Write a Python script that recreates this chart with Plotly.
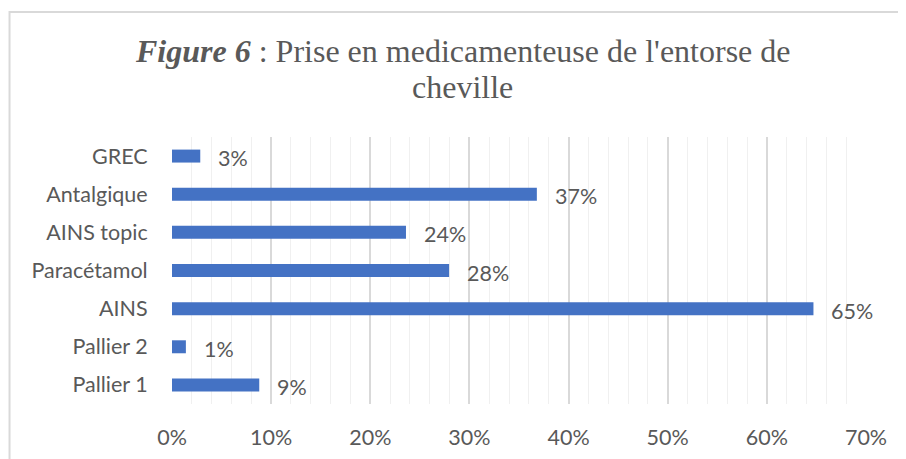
import plotly.graph_objects as go

# values (share of patients)
categories = ["Pallier 1", "Pallier 2", "AINS", "Paracétamol", "AINS topic", "Antalgique", "GREC"]
values = [0.088, 0.014, 0.647, 0.2795, 0.236, 0.368, 0.0285]
x_ticks = [0, 0.1, 0.2, 0.3, 0.4, 0.5, 0.6, 0.7]
x_ticklabels = ["0%", "10%", "20%", "30%", "40%", "50%", "60%", "70%"]
title_lines = ["<b><i>Figure 6</i></b> : Prise en medicamenteuse de l'entorse de", "cheville"]

blue = "#4472C4"
grey_txt = "#595959"
label_font = dict(family="Lato, Open Sans, sans-serif", size=21.5, color=grey_txt)
title_font = dict(family="Liberation Serif, Times New Roman, serif", size=32, color=grey_txt)

fig = go.Figure()
fig.add_trace(go.Bar(
    y=categories, x=values, orientation="h",
    marker=dict(color=blue, line=dict(width=0)),
    width=0.34,
    hoverinfo="skip",
))

# data labels, pushed a bit away from the bar end like in Excel
for cat, v in zip(categories, values):
    fig.add_annotation(x=v, y=cat, text=f"{round(v * 100)}%", showarrow=False,
                       xanchor="left", xshift=16, yshift=-2, font=label_font)

# two-line title, written as separate lines to keep the tight line spacing
for line, ypos in zip(title_lines, [1.322, 1.187]):
    fig.add_annotation(xref="paper", yref="paper", x=0.418, y=ypos, text=line,
                       showarrow=False, xanchor="center", yanchor="middle", font=title_font)

# the page adds an 8px body margin, so the margins are 8px smaller on left/top
fig.update_layout(
    width=906, height=459,
    margin=dict(l=164, r=48, t=129, b=63),
    paper_bgcolor="white", plot_bgcolor="white",
    showlegend=False,
    xaxis=dict(
        range=[0, 0.7], tickvals=x_ticks, ticktext=x_ticklabels,
        showgrid=True, gridcolor="#d9d9d9", gridwidth=1.5,
        minor=dict(dtick=0.02, showgrid=True, gridcolor="#f0f0f0", gridwidth=1),
        zeroline=False, showline=False, automargin=False,
        ticks="outside", ticklen=14, tickcolor="rgba(0,0,0,0)",
        tickfont=label_font, fixedrange=True,
    ),
    yaxis=dict(
        range=[-0.5, 6.5], showgrid=False, zeroline=False, showline=False,
        automargin=False,
        ticks="outside", ticklen=19, tickcolor="rgba(0,0,0,0)",
        tickfont=label_font, fixedrange=True,
    ),
    shapes=[
        # outer chart frame, cropped by the picture on the right and bottom
        dict(type="rect", xref="paper", yref="paper",
             x0=-0.2341, x1=1.3, y0=-0.6, y1=1.468,
             line=dict(color="#d9d9d9", width=2), layer="below"),
    ],
)

fig.write_html("out.html")
